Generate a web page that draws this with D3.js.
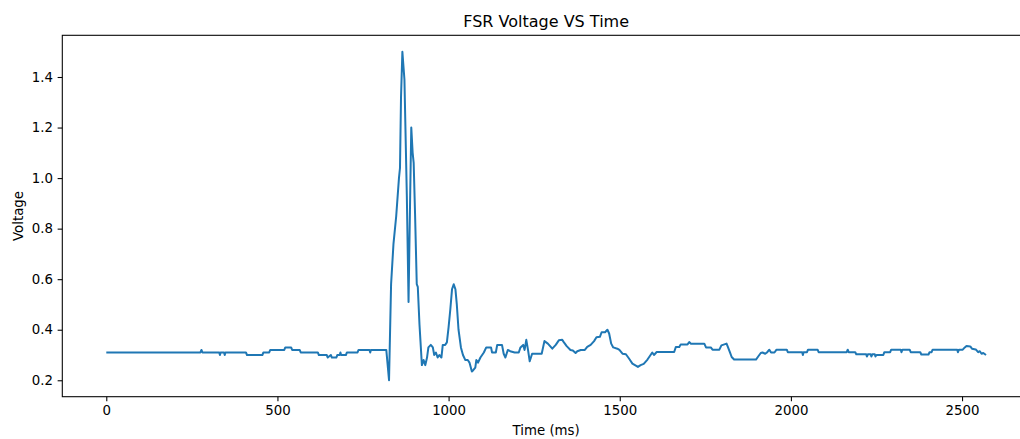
<!DOCTYPE html>
<html>
<head>
<meta charset="utf-8">
<script src="https://d3js.org/d3.v7.min.js"></script>
<style>
  body { margin: 0; background: white; }
  svg { display: block; overflow: hidden; }
  text { font-family: "DejaVu Sans", sans-serif; fill: black; }
</style>
</head>
<body>
<div id="vis"></div>
<script>
// data
let timeMs = [
  0, 275, 278, 281, 330, 332, 334, 344, 346, 348, 408, 411, 456, 459, 476, 479,
  520, 523, 540, 543, 565, 568, 618, 621, 644, 647, 656, 659, 672, 675, 682, 684,
  686, 700, 703, 734, 737, 769, 771, 773, 818, 826, 832, 839, 847, 855, 858, 861,
  865, 871, 878, 883, 888, 891, 895, 898, 902, 907, 910, 915, 922, 927, 932, 937,
  941, 948, 954, 958, 963, 968, 973, 979, 983, 990, 995, 1000, 1005, 1010, 1015, 1020,
  1024, 1029, 1036, 1042, 1049, 1056, 1061, 1068, 1072, 1078, 1081, 1086, 1093, 1103, 1110, 1124,
  1127, 1138, 1142, 1156, 1161, 1166, 1173, 1180, 1193, 1205, 1210, 1218, 1222, 1227, 1232, 1237,
  1244, 1272, 1280, 1285, 1290, 1303, 1313, 1322, 1332, 1337, 1345, 1356, 1363, 1371, 1376, 1386,
  1398, 1405, 1415, 1425, 1432, 1442, 1447, 1457, 1464, 1469, 1475, 1481, 1493, 1499, 1508, 1518,
  1527, 1537, 1547, 1553, 1561, 1570, 1581, 1590, 1595, 1600, 1608, 1659, 1664, 1674, 1678, 1698,
  1703, 1708, 1747, 1752, 1766, 1771, 1791, 1797, 1812, 1815, 1822, 1827, 1834, 1898, 1905, 1912,
  1917, 1925, 1930, 1937, 1942, 1952, 1958, 1988, 1991, 2033, 2035, 2037, 2047, 2050, 2078, 2081,
  2163, 2166, 2169, 2188, 2191, 2220, 2222, 2225, 2233, 2235, 2238, 2245, 2247, 2250, 2270, 2273,
  2290, 2293, 2321, 2323, 2326, 2347, 2350, 2378, 2381, 2402, 2405, 2411, 2414, 2486, 2488, 2491,
  2502, 2508, 2513, 2524, 2529, 2540, 2547, 2552, 2557, 2562, 2570
];

let voltage = [
  0.31, 0.31, 0.32, 0.31, 0.31, 0.30, 0.31, 0.31, 0.30, 0.31, 0.31, 0.30, 0.30, 0.31, 0.31, 0.32,
  0.32, 0.33, 0.33, 0.32, 0.32, 0.31, 0.31, 0.30, 0.30, 0.29, 0.30, 0.29, 0.29, 0.30, 0.30, 0.31,
  0.30, 0.30, 0.31, 0.31, 0.32, 0.32, 0.31, 0.32, 0.32, 0.20, 0.58, 0.74, 0.85, 1.00, 1.04, 1.32,
  1.50, 1.39, 0.93, 0.51, 0.95, 1.20, 1.10, 1.06, 0.86, 0.58, 0.57, 0.42, 0.26, 0.28, 0.26, 0.29,
  0.33, 0.34, 0.33, 0.30, 0.31, 0.29, 0.30, 0.29, 0.34, 0.34, 0.35, 0.41, 0.48, 0.56, 0.58, 0.56,
  0.50, 0.40, 0.33, 0.30, 0.28, 0.28, 0.27, 0.235, 0.24, 0.25, 0.28, 0.27, 0.29, 0.31, 0.33, 0.33,
  0.31, 0.31, 0.34, 0.34, 0.305, 0.29, 0.32, 0.315, 0.31, 0.31, 0.33, 0.34, 0.32, 0.36, 0.32, 0.275,
  0.305, 0.305, 0.355, 0.35, 0.345, 0.325, 0.34, 0.358, 0.36, 0.35, 0.335, 0.32, 0.318, 0.308, 0.315, 0.32,
  0.32, 0.332, 0.34, 0.355, 0.37, 0.372, 0.39, 0.39, 0.40, 0.385, 0.345, 0.33, 0.325, 0.32, 0.305, 0.303,
  0.286, 0.266, 0.258, 0.253, 0.26, 0.265, 0.282, 0.30, 0.31, 0.30, 0.312, 0.312, 0.332, 0.332, 0.342, 0.342,
  0.351, 0.345, 0.345, 0.33, 0.33, 0.321, 0.321, 0.338, 0.345, 0.335, 0.31, 0.292, 0.282, 0.282, 0.295, 0.308,
  0.31, 0.305, 0.31, 0.321, 0.31, 0.31, 0.321, 0.321, 0.311, 0.311, 0.30, 0.311, 0.311, 0.321, 0.321, 0.311,
  0.311, 0.321, 0.311, 0.311, 0.303, 0.303, 0.294, 0.303, 0.303, 0.294, 0.303, 0.303, 0.294, 0.30, 0.30, 0.311,
  0.311, 0.321, 0.321, 0.311, 0.321, 0.321, 0.311, 0.311, 0.302, 0.302, 0.311, 0.311, 0.321, 0.321, 0.311, 0.321,
  0.321, 0.33, 0.336, 0.334, 0.325, 0.322, 0.311, 0.315, 0.305, 0.308, 0.30
];

let xTicks = [0, 500, 1000, 1500, 2000, 2500];
let yTicks = [0.2, 0.4, 0.6, 0.8, 1.0, 1.2, 1.4];

let data = timeMs.map((t, i) => ({ t: t, v: voltage[i] }));

// plot area, the right edge runs past the picture like in the reference
let margin = { top: 35.3, left: 62.3, right: -10, bottom: 42.3 },
  fullWidth = 1020,
  fullHeight = 439,
  width = fullWidth - margin.left - margin.right,
  height = fullHeight - margin.top - margin.bottom;

let svg = d3.select('#vis')
  .append('svg')
  .attr('width', fullWidth)
  .attr('height', fullHeight);

let g = svg.append('g')
  .attr('transform', `translate(${margin.left}, ${margin.top})`);

// matplotlib style 5% margins
let xExt = d3.extent(data, d => d.t),
  yExt = d3.extent(data, d => d.v),
  xPad = (xExt[1] - xExt[0]) * 0.05,
  yPad = (yExt[1] - yExt[0]) * 0.05;

let x = d3.scaleLinear()
  .domain([xExt[0] - xPad, xExt[1] + xPad])
  .range([0, width]);

let y = d3.scaleLinear()
  .domain([yExt[0] - yPad, yExt[1] + yPad])
  .range([height, 0]);

// x axis
let xAxis = g.append('g')
  .attr('transform', `translate(0, ${height})`)
  .call(d3.axisBottom(x).tickValues(xTicks).tickSize(4.67).tickPadding(4.67).tickFormat(d3.format('d')));

// y axis
let yAxis = g.append('g')
  .call(d3.axisLeft(y).tickValues(yTicks).tickSize(4.67).tickPadding(4.67).tickFormat(d3.format('.1f')));

[xAxis, yAxis].forEach(a => {
  a.select('.domain').remove();
  a.selectAll('line').attr('stroke', 'black').attr('stroke-width', 1.07);
  a.selectAll('text')
    .style('font-family', '"DejaVu Sans", sans-serif')
    .style('font-size', '13.33px')
    .attr('fill', 'black');
});

// frame
g.append('rect')
  .attr('x', 0)
  .attr('y', 0)
  .attr('width', width)
  .attr('height', height)
  .attr('fill', 'none')
  .attr('stroke', 'black')
  .attr('stroke-width', 1.07);

// the line
let line = d3.line()
  .x(d => x(d.t))
  .y(d => y(d.v));

g.append('path')
  .datum(data)
  .attr('d', line)
  .attr('fill', 'none')
  .attr('stroke', '#1f77b4')
  .attr('stroke-width', 2)
  .attr('stroke-linejoin', 'round');

// title and labels
let centerX = margin.left + width / 2;

svg.append('text')
  .attr('x', centerX)
  .attr('y', 27.3)
  .attr('text-anchor', 'middle')
  .style('font-size', '16px')
  .text('FSR Voltage VS Time');

svg.append('text')
  .attr('x', centerX)
  .attr('y', 434.7)
  .attr('text-anchor', 'middle')
  .style('font-size', '13.33px')
  .text('Time (ms)');

svg.append('text')
  .attr('transform', `translate(22.5, ${margin.top + height / 2}) rotate(-90)`)
  .attr('text-anchor', 'middle')
  .style('font-size', '13.33px')
  .text('Voltage');
</script>
</body>
</html>
